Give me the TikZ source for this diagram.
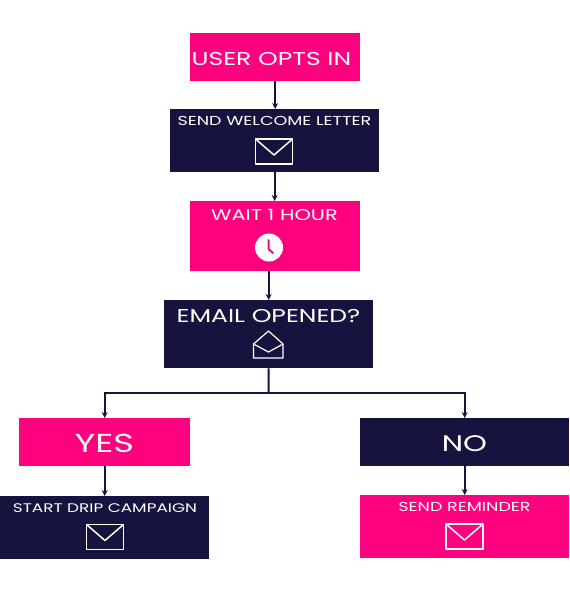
\documentclass[tikz,border=0pt]{standalone}
\usepackage{fontspec}
\newfontfamily\boxfont[FakeStretch=1.35]{Poppins}
\usetikzlibrary{arrows.meta}
\definecolor{hotpink}{HTML}{FF007F}
\definecolor{darknavy}{HTML}{16133F}
\tikzset{
pinkbox/.style={fill=hotpink, inner sep=0, anchor=north west},
navybox/.style={fill=darknavy, inner sep=0, anchor=north west},
boxlabel/.style={text=white, inner sep=0, font=\boxfont},
flow/.style={draw=darknavy, line width=2, -{Stealth[length=6,width=6]}},
icon/.style={draw=white, line width=1.5, line join=round}
}
\newcommand{\envelope}[2]{
\draw[icon] (#1-18.5,#2-12.5) rectangle (#1+18.5,#2+12.5);
\draw[icon] (#1-18.5,#2-12.5) -- (#1,#2+3.5) -- (#1+18.5,#2-12.5);
}

\begin{document}
\begin{tikzpicture}[x=1pt, y=-1pt]
\useasboundingbox (0,0) rectangle (570,600);
\node[pinkbox, minimum width=170, minimum height=48] (optin) at (190,33) {};
\node[navybox, minimum width=209, minimum height=63] (welcome) at (170,109) {};
\node[pinkbox, minimum width=170, minimum height=70] (wait) at (190,201) {};
\node[navybox, minimum width=209, minimum height=68] (opened) at (164,300) {};
\node[pinkbox, minimum width=171, minimum height=48] (yes) at (19,418) {};
\node[navybox, minimum width=209, minimum height=48] (no) at (360,418) {};
\node[navybox, minimum width=209, minimum height=63] (drip) at (0,496) {};
\node[pinkbox, minimum width=209, minimum height=63] (reminder) at (360,495) {};

\node[boxlabel, font=\boxfont\fontsize{18.6}{22}\selectfont] (optintext) at (271.5,58.5) {USER OPTS IN};
\node[boxlabel, font=\boxfont\fontsize{13}{16}\selectfont] (welcometext) at (274.5,121) {SEND WELCOME LETTER};
\node[boxlabel, font=\boxfont\fontsize{15.5}{19}\selectfont] (waittext) at (274.5,214.5) {WAIT 1 HOUR};
\node[boxlabel, font=\boxfont\fontsize{18.6}{22}\selectfont] (openedtext) at (268.5,316) {EMAIL OPENED?};
\node[boxlabel, font=\boxfont\fontsize{26}{30}\selectfont] (yestext) at (104.5,443.5) {YES};
\node[boxlabel, font=\boxfont\fontsize{22.5}{30}\selectfont] (notext) at (464.5,443.5) {NO};
\node[boxlabel, font=\boxfont\fontsize{12.5}{16}\selectfont] (driptext) at (105,508) {START DRIP CAMPAIGN};
\node[boxlabel, font=\boxfont\fontsize{13}{16}\selectfont] (remindertext) at (464.5,507) {SEND REMINDER};

\envelope{274}{151.5}
\envelope{105}{537}
\envelope{464.5}{536.5}

\fill[white] (269,247.5) circle (14);
\draw[hotpink, line width=2, line cap=round, line join=round] (268.5,240) -- (268.5,249) -- (273,253);

\draw[icon, line width=1.2] (253.5,344) -- (268.5,331) -- (283,344) -- (283,358) -- (253.5,358) -- cycle;
\draw[icon, line width=1.2] (253.5,344) -- (268.5,352) -- (283,344);

\coordinate (branch) at (268.5,393);
\draw[flow] (optin) -- (optin.south |- welcome.north);
\draw[flow] (welcome) -- (welcome.south |- wait.north);
\draw[flow] (opened.north |- wait.south) -- (opened);
\draw[draw=darknavy, line width=2] (opened) -- (branch);
\draw[flow] (branch) -| (yes);
\draw[flow] (branch) -| (no);
\draw[flow] (yes) -- (yes.south |- drip.north);
\draw[flow] (no) -- (reminder);
\end{tikzpicture}
\end{document}
